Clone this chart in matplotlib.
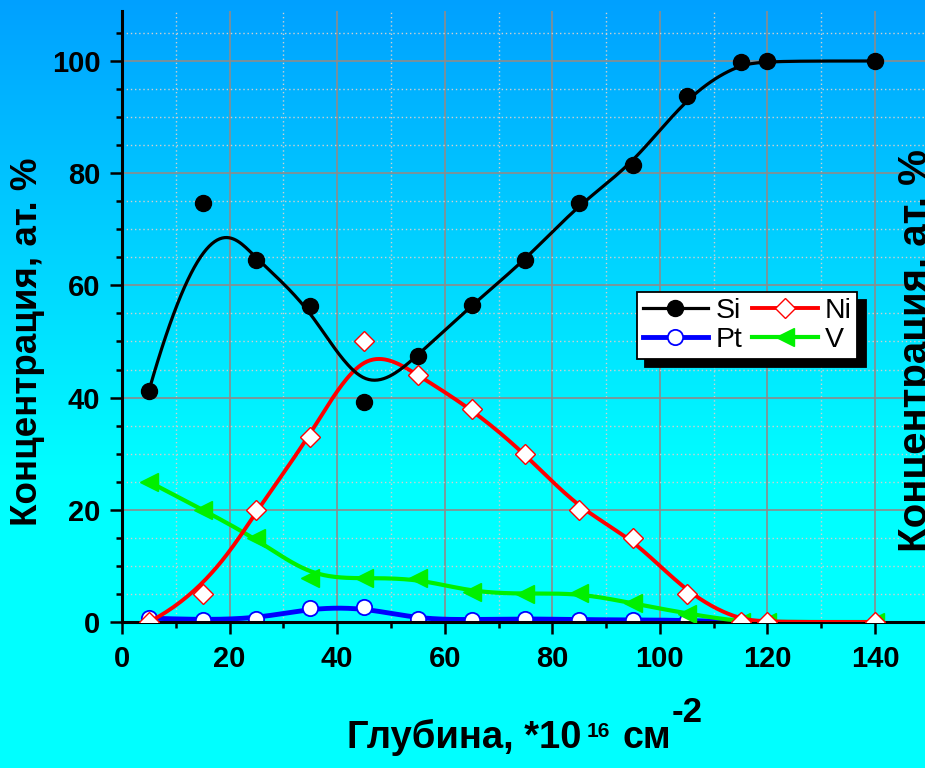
import numpy as np
import matplotlib
matplotlib.use('Agg')
import matplotlib.pyplot as plt
from matplotlib.ticker import MultipleLocator
from matplotlib.lines import Line2D

plt.rcParams['font.family'] = ['Liberation Sans', 'DejaVu Sans']

# depth points, *10^16 cm^-2
depth = [5, 15, 25, 35, 45, 55, 65, 75, 85, 95, 105, 115, 120, 140]
depth_pt = [5, 15, 25, 35, 45, 55, 65, 75, 85, 95, 105, 115]

# concentration, at. %
si = [41.2, 74.7, 64.5, 56.4, 39.3, 47.5, 56.5, 64.5, 74.6, 81.5, 93.8, 99.9, 100, 100]
ni = [0, 5, 20, 33, 50, 44, 38, 30, 20, 15, 5, 0, 0, 0]
pt = [0.7, 0.35, 0.5, 2.5, 2.6, 0.5, 0.4, 0.6, 0.4, 0.4, 0.3, 0]
v = [25, 20, 15, 7.9, 7.8, 7.8, 5.3, 5.0, 5.2, 3.3, 1.5, 0, 0, 0]


def bspline(xs, ys, n=400, k=3):
    # clamped uniform B-spline with the data points as control points
    P = np.column_stack([xs, ys]).astype(float)
    m = len(P)
    knots = np.concatenate([np.zeros(k), np.arange(m - k + 1), np.full(k, m - k)]).astype(float)
    t = np.linspace(0, m - k, n)
    t[-1] -= 1e-9
    N = np.zeros((n, len(knots) - 1))
    for i in range(len(knots) - 1):
        N[:, i] = (knots[i] <= t) & (t < knots[i + 1])
    for d in range(1, k + 1):
        Nn = np.zeros((n, len(knots) - 1 - d))
        for i in range(len(knots) - 1 - d):
            a = knots[i + d] - knots[i]
            b = knots[i + d + 1] - knots[i + 1]
            left = (t - knots[i]) / a * N[:, i] if a > 0 else 0
            right = (knots[i + d + 1] - t) / b * N[:, i + 1] if b > 0 else 0
            Nn[:, i] = left + right
        N = Nn
    C = N @ P
    return C[:, 0], C[:, 1]


W, H = 925, 768
fig = plt.figure(figsize=(W / 100, H / 100), dpi=100)

# background gradient blue -> cyan
bg = fig.add_axes([0, 0, 1, 1], zorder=-10)
rows = np.arange(H)
g = np.clip(160 + 0.2 * rows, 0, 255) / 255.0
img = np.zeros((H, 1, 3))
img[:, 0, 1] = g
img[:, 0, 2] = 1.0
bg.imshow(img, aspect='auto', extent=[0, 1, 0, 1])
bg.axis('off')

x0, x1 = 0, 150
ppx = 5.379
left_px, bottom_px = 122, 622
ax = fig.add_axes([left_px / W, 1 - bottom_px / H, (x1 - x0) * ppx / W, (622 - 10.5) / H])
ax.set_facecolor('none')
ax.set_xlim(x0, x1)
ax.set_ylim(0, 109)

ax.xaxis.set_major_locator(MultipleLocator(20))
ax.xaxis.set_minor_locator(MultipleLocator(10))
ax.yaxis.set_major_locator(MultipleLocator(20))
ax.yaxis.set_minor_locator(MultipleLocator(5))
ax.set_axisbelow(True)
ax.grid(which='major', color='#8c8c8c', lw=1.2, ls='-')
ax.grid(which='minor', color='#cfcfcf', lw=1.0, ls=(0, (1, 2)))

for s in ['top', 'right']:
    ax.spines[s].set_visible(False)
for s in ['left', 'bottom']:
    ax.spines[s].set_linewidth(2.2)
ax.tick_params(which='major', direction='out', length=8.5, width=1.8, pad=7, labelsize=21)
ax.tick_params(which='minor', direction='out', length=4.3, width=1.8)
for lab in ax.get_xticklabels() + ax.get_yticklabels():
    lab.set_fontweight('bold')
ax.tick_params(axis='x', pad=8)

# marker / line styles per element
sty_si = dict(color='black', lw=2.3, marker='o', ms=11.5)
sty_pt = dict(color='#0000ff', lw=3.5, marker='o', ms=11, mfc='white', mec='#0000ff', mew=1.3)
sty_ni = dict(color='#ff0000', lw=2.8, marker='D', ms=10.5, mfc='white', mec='#ff0000', mew=1.0)
sty_v = dict(color='#00f000', lw=3.0, marker='<', ms=13)

# smooth curves through the data, markers on the data
bx, by = bspline(depth_pt, pt)
ax.plot(bx, by, color=sty_pt['color'], lw=sty_pt['lw'], zorder=2)
ax.plot(depth_pt, pt, **{**sty_pt, 'ls': 'none'}, zorder=2.1)

bx, by = bspline(depth, v)
ax.plot(bx, by, color=sty_v['color'], lw=sty_v['lw'], zorder=3)
ax.plot(depth, v, **{**sty_v, 'ls': 'none'}, zorder=3.1)

bx, by = bspline(depth, ni)
ax.plot(bx, by, color=sty_ni['color'], lw=sty_ni['lw'], zorder=4)
ax.plot(depth, ni, **{**sty_ni, 'ls': 'none'}, zorder=4.1)

bx, by = bspline(depth, si)
ax.plot(bx, by, color=sty_si['color'], lw=sty_si['lw'], zorder=5)
ax.plot(depth, si, **{**sty_si, 'ls': 'none'}, zorder=5.1)

handles = [Line2D([], [], **sty_si), Line2D([], [], **sty_pt),
           Line2D([], [], **sty_ni), Line2D([], [], **sty_v)]
labels = ['Si', 'Pt', 'Ni', 'V']
leg = fig.legend(handles, labels, ncol=2, loc='upper left',
                 bbox_to_anchor=(637 / W, 1 - 292 / H), borderaxespad=0,
                 fontsize=20.5, frameon=True, fancybox=False, framealpha=1,
                 edgecolor='black', facecolor='white', handlelength=2.3,
                 handletextpad=0.25, columnspacing=0.35, labelspacing=0.12,
                 borderpad=0.2,
                 shadow={'color': 'black', 'alpha': 1, 'ox': 6, 'oy': -6})
leg.get_frame().set_linewidth(1.3)

# axis titles
ylab = 'Концентрация, ат. %'
fig.text(28 / W, 1 - 342 / H, ylab, rotation=90, ha='center', va='center',
         fontsize=26.5, fontweight='bold')
fig.text(916 / W, 1 - 350 / H, ylab, rotation=90, ha='center', va='center',
         fontsize=29, fontweight='bold')

fig.text(347 / W, 1 - 748 / H, 'Глубина, *10', ha='left', va='baseline',
         fontsize=27.5, fontweight='bold')
fig.text(587 / W, 1 - 737 / H, '16', ha='left', va='baseline',
         fontsize=15, fontweight='bold')
fig.text(622 / W, 1 - 748 / H, 'см', ha='left', va='baseline',
         fontsize=27, fontweight='bold')
fig.text(672 / W, 1 - 722 / H, '-2', ha='left', va='baseline',
         fontsize=25, fontweight='bold')

fig.savefig('out.png', dpi=100)
